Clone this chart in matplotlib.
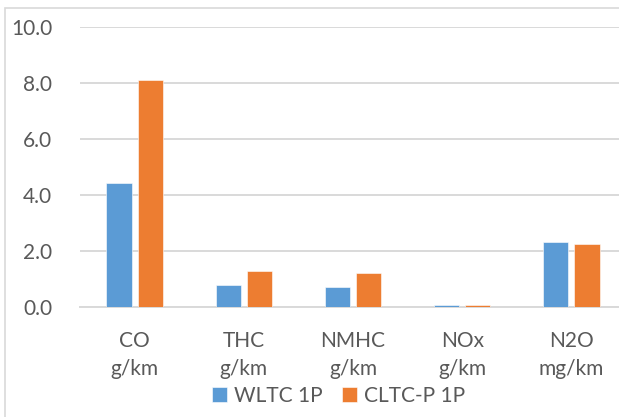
import numpy as np
import matplotlib
matplotlib.use('Agg')
import matplotlib.pyplot as plt
from matplotlib.patches import Rectangle

# chart data
categories = ['CO\ng/km', 'THC\ng/km', 'NMHC\ng/km', 'NOx\ng/km', 'N2O\nmg/km']
wltc = [4.45, 0.78, 0.72, 0.10, 2.34]
cltc = [8.11, 1.30, 1.22, 0.10, 2.25]
series_names = ['WLTC 1P', 'CLTC-P 1P']
yticks = [0, 2, 4, 6, 8, 10]

plt.rcParams['font.family'] = ['Lato', 'DejaVu Sans']
text_color = '#595959'
grid_color = '#D9D9D9'

fig = plt.figure(figsize=(6.19, 4.17), dpi=100)
ax = fig.add_axes([80 / 619, 109.7 / 417, 546 / 619, 280 / 417])

x = np.arange(len(categories))
w = 0.23
off = 0.143
ax.bar(x - off, wltc, w, color='#5B9BD5', edgecolor='white', linewidth=0.4,
       label=series_names[0], zorder=3)
ax.bar(x + off, cltc, w, color='#ED7D31', edgecolor='white', linewidth=0.4,
       label=series_names[1], zorder=3)

ax.set_xlim(-0.5, len(categories) - 0.5)
ax.set_ylim(0, 10)
ax.set_yticks(yticks)
ax.set_yticklabels(['%.1f' % v for v in yticks])
ax.set_xticks(x)
ax.set_xticklabels(categories, linespacing=1.5)
ax.tick_params(axis='both', length=0, labelsize=15, colors=text_color)
ax.tick_params(axis='y', pad=20)
ax.tick_params(axis='x', pad=17)

ax.yaxis.grid(True, color=grid_color, linewidth=1.4, zorder=0)
ax.set_axisbelow(True)
for s in ['top', 'right', 'left']:
    ax.spines[s].set_visible(False)
ax.spines['bottom'].set_color(grid_color)
ax.spines['bottom'].set_linewidth(1.4)
ax.spines['bottom'].set_zorder(1)

leg = fig.legend(loc='center', bbox_to_anchor=(0.547, 21 / 417), ncol=2,
                 frameon=False, fontsize=15, handlelength=0.7, handleheight=0.7,
                 handletextpad=0.35, columnspacing=0.95, borderaxespad=0)
for t in leg.get_texts():
    t.set_color(text_color)

# outer chart border (only top/left visible in the crop)
fig.patches.append(Rectangle((4.5 / 619, -0.1), 1.2, 1.1 - 8 / 417,
                             transform=fig.transFigure, fill=False,
                             edgecolor=grid_color, linewidth=1.2))

fig.savefig('out.png', dpi=100)
